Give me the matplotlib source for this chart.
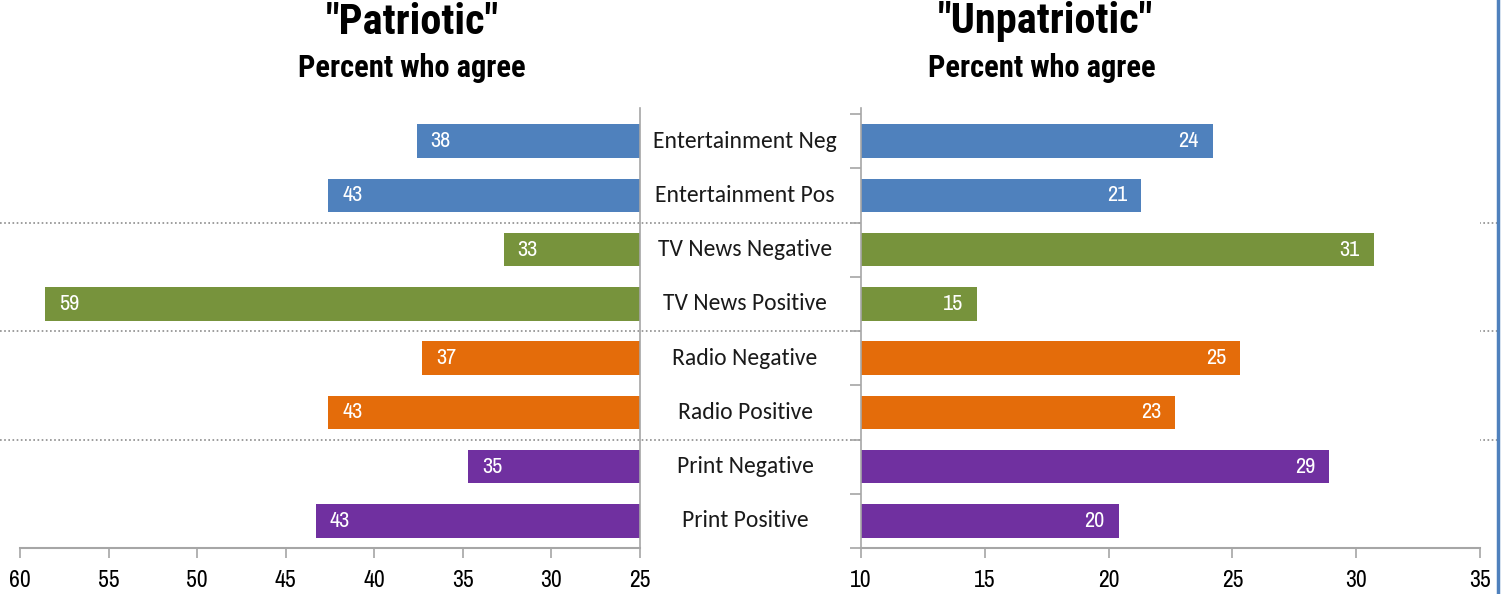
import matplotlib
matplotlib.use("Agg")
import matplotlib.pyplot as plt
import matplotlib.transforms as mtransforms
from matplotlib.lines import Line2D
from matplotlib import font_manager

categories = ["Entertainment Neg", "Entertainment Pos", "TV News Negative", "TV News Positive",
              "Radio Negative", "Radio Positive", "Print Negative", "Print Positive"]
patriotic = [37.6, 42.6, 32.7, 58.6, 37.3, 42.6, 34.7, 43.3]
unpatriotic = [24.2, 21.3, 30.7, 14.7, 25.3, 22.7, 28.9, 20.4]
left_ticks = [60, 55, 50, 45, 40, 35, 30, 25]
right_ticks = [10, 15, 20, 25, 30, 35]
group_colors = ["#4F81BD", "#4F81BD", "#77933C", "#77933C",
                "#E46C0A", "#E46C0A", "#7030A0", "#7030A0"]

fonts = font_manager.fontManager.ttflist
names = {f.name for f in fonts}
def pick(*cands):
    for c in cands:
        if c in names:
            return c
    return "DejaVu Sans"
def pick_bold(*cands):
    for c in cands:
        if any(f.name == c and f.weight in (700, "bold") for f in fonts):
            return c
    return "DejaVu Sans"
narrow = pick("Archivo Narrow", "PT Sans Narrow", "Fira Sans Condensed", "Barlow Condensed")
narrow_bold = pick_bold("Roboto Condensed", "Fira Sans Condensed", "PT Sans Narrow", "Archivo Narrow")
cat_font = pick("Carlito", "Lato", "Open Sans")

W, H = 1510, 594
fig = plt.figure(figsize=(W / 100, H / 100), dpi=100)

def px(x0, y0, x1, y1):
    return [x0 / W, 1 - y1 / H, (x1 - x0) / W, (y1 - y0) / H]

axL = fig.add_axes(px(20, 108, 640, 548))
axR = fig.add_axes(px(861, 108, 1480, 548))

ys = list(range(len(categories)))
gray = "#A6A6A6"
row_px = 434 / len(categories)
top_lim = -0.5 - 6 / row_px

# Left panel
axL.barh(ys, [v - 25 for v in patriotic], left=25, height=0.62, color=group_colors)
axL.set_xlim(60, 25)
axL.set_ylim(len(categories) - 0.5, top_lim)
for y, v in zip(ys, patriotic):
    axL.annotate(f"{round(v)}", (v, y), xytext=(10, 0), textcoords="offset points",
                 ha="left", va="center", color="white", fontsize=16, family=narrow)

# Right panel
axR.barh(ys, [v - 10 for v in unpatriotic], left=10, height=0.62, color=group_colors)
axR.set_xlim(10, 35)
axR.set_ylim(len(categories) - 0.5, top_lim)
for y, v in zip(ys, unpatriotic):
    axR.annotate(f"{round(v)}", (v, y), xytext=(-10, 0), textcoords="offset points",
                 ha="right", va="center", color="white", fontsize=16, family=narrow)

for ax, ticks in ((axL, left_ticks), (axR, right_ticks)):
    ax.set_xticks(ticks)
    ax.set_xticklabels([str(t) for t in ticks], fontsize=17, family=narrow, color="#000000")
    ax.tick_params(axis="x", direction="out", length=7, width=1.2, color=gray, pad=9)
    ax.spines["top"].set_visible(False)
    ax.spines["bottom"].set_color(gray)
    ax.spines["bottom"].set_linewidth(1.5)

axL.spines["left"].set_visible(False)
axL.spines["right"].set_color(gray)
axL.spines["right"].set_linewidth(1.2)
axL.set_yticks([])

axR.spines["right"].set_visible(False)
axR.spines["left"].set_color(gray)
axR.spines["left"].set_linewidth(1.2)
axR.set_yticks([y + 0.5 for y in ys] + [-0.5])
axR.set_yticklabels([])
axR.tick_params(axis="y", direction="out", length=8, width=1.2, color=gray)

# Category labels in the middle
trans = mtransforms.blended_transform_factory(fig.transFigure, axL.transData)
for y, c in zip(ys, categories):
    fig.text(745 / W, y, c, transform=trans, ha="center", va="center",
             fontsize=17, family=cat_font, color="#1a1a1a")

# Dotted group separators across the whole width
for yb in (1.5, 3.5, 5.5):
    axL.axhline(yb, xmin=(0 - 20) / 620, xmax=(1497 - 20) / 620, clip_on=False,
                color="#8c8c8c", lw=1.2, ls=(0, (1, 1.5)))

# Titles
fig.text(412 / W, 1 - 22 / H, '"Patriotic"', ha="center", va="center",
         fontsize=30.5, fontweight="bold", family=narrow_bold)
fig.text(412 / W, 1 - 68 / H, "Percent who agree", ha="center", va="center",
         fontsize=22, fontweight="bold", family=narrow_bold)
fig.text(1045 / W, 1 - 22 / H, '"Unpatriotic"', ha="center", va="center",
         fontsize=30.5, fontweight="bold", family=narrow_bold)
fig.text(1042 / W, 1 - 68 / H, "Percent who agree", ha="center", va="center",
         fontsize=22, fontweight="bold", family=narrow_bold)

# Slide border line at right
fig.add_artist(Line2D([1498 / W, 1498 / W], [0, 1], transform=fig.transFigure,
                      color="#4F81BD", lw=2.5))

fig.savefig("out.png", dpi=100)
